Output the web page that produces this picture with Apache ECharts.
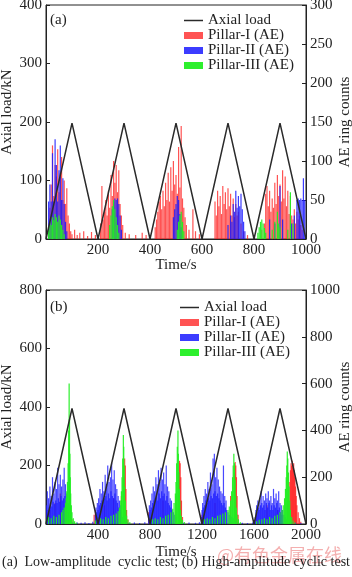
<!DOCTYPE html>
<html>
<head>
<meta charset="utf-8">
<script src="https://cdn.jsdelivr.net/npm/echarts@6/dist/echarts.min.js"></script>
<style>
  html, body { margin: 0; padding: 0; background: #fff; }
  #chart { width: 352px; height: 577px; }
</style>
</head>
<body>
<div id="chart"></div>
<script>
// (a) low-amplitude cyclic test: [time s, axial load kN]
const loadA = [[0, 0], [100, 198], [200, 0], [300, 198], [400, 0], [500, 198], [600, 0], [700, 198], [800, 0], [900, 198], [1000, 0]];
// AE ring counts [time s, counts]
const redA = [[15,40],[20,70],[25,120],[30,55],[35,95],[40,80],[45,115],[50,60],[55,85],[60,105],[65,50],[70,75],[75,45],[80,65],[85,30],[90,20],[95,10],[100,6],[110,12],[120,5],[130,8],[145,10],[160,4],[175,9],[190,5],
  [210,20],[215,68],[220,25],[225,35],[230,50],[235,30],[240,62],[245,40],[250,82],[255,55],[260,100],[265,72],[270,95],[275,60],[280,88],[285,45],[290,30],[295,18],[305,8],[320,6],[345,5],[370,8],[385,5],
  [420,15],[425,25],[430,35],[435,48],[440,55],[445,38],[450,62],[455,42],[460,72],[465,50],[470,85],[475,48],[480,92],[485,62],[490,100],[495,70],[500,82],[505,58],[510,118],[515,66],[520,145],[525,52],[530,40],[535,28],[540,18],[550,12],[565,38],[575,10],[590,6],
  [650,48],[655,30],[660,62],[665,42],[670,55],[675,32],[680,68],[685,45],[690,60],[695,38],[700,65],[705,42],[710,58],[715,30],[720,52],[725,28],[730,45],[735,30],[740,35],[750,20],[760,10],[775,5],
  [830,12],[840,20],[845,58],[850,68],[855,42],[860,62],[865,35],[870,52],[875,40],[880,72],[885,45],[890,82],[895,55],[900,70],[905,48],[910,88],[915,52],[920,80],[925,42],[930,62],[935,32],[940,55],[945,30],[950,25],[955,38],[960,20],[965,35],[970,25],[975,30],[980,18],[985,12]];
const blueA = [[10,48],[15,70],[20,48],[25,110],[30,48],[35,128],[40,95],[45,48],[50,88],[55,120],[60,50],[65,78],[70,45],[75,22],[80,10],
  [255,38],[260,48],[265,52],[270,50],[275,52],[280,45],[285,30],[290,12],
  [490,28],[495,38],[500,45],[505,55],[510,50],[515,32],[520,15],
  [700,18],[710,30],[715,22],[720,45],[725,35],[730,62],[735,40],[740,55],[745,42],[750,58],[755,38],[760,22],[765,10],
  [860,25],[880,20],[900,68],[910,25],[945,20],[955,30],[965,50],[970,52],[975,50],[980,52],[985,50],[990,78],[995,50]];
const greenA = [[10,12],[15,22],[20,18],[25,28],[30,24],[35,32],[40,28],[45,22],[50,30],[55,25],[60,18],[65,12],[70,6],
  [245,18],[250,30],[255,42],[260,50],[265,38],[270,28],[275,18],[280,8],
  [505,12],[510,22],[515,30],[520,35],[525,22],[530,10],
  [815,8],[820,15],[825,22],[830,25],[835,20],[840,14],[845,8],[870,12],[880,22],[890,35],[895,20],[900,15],[930,12],[940,60],[950,20]];

// (b) high-amplitude cyclic test
const loadB = [[0, 0], [200, 395], [400, 0], [600, 395], [800, 0], [1000, 395], [1200, 0], [1400, 395], [1600, 0], [1800, 395], [2000, 0]];
const redB = [[30,60],[70,90],[110,130],[150,80],[185,120],[190,60],[200,20],[370,40],[380,60],[450,80],[520,110],[580,120],
  [600,200],[605,280],[610,250],[615,150],[620,60],[630,20],[790,50],[900,100],[1000,120],
  [1022,220],[1027,270],[1032,260],[1037,200],[1042,100],[1050,30],[1200,40],[1300,90],[1420,120],
  [1450,220],[1455,265],[1460,250],[1465,200],[1470,120],[1478,40],[1620,50],[1700,80],[1780,60],
  [1860,100],[1870,180],[1880,230],[1885,260],[1890,250],[1895,270],[1900,240],[1905,260],[1910,230],[1915,200],[1920,160],[1925,120],[1930,80],[1940,50],[1950,25],[1960,10]];
const blueB = [[5,80],[10,140],[15,60],[20,110],[25,70],[30,160],[35,90],[40,120],[45,75],[50,200],[55,95],[60,130],[65,85],[70,180],[75,100],[80,150],[85,90],[90,240],[95,110],[100,170],[105,95],[110,210],[115,120],[120,160],[125,100],[130,190],[135,110],[140,240],[145,120],[150,170],[155,90],[160,130],[165,70],[170,90],[175,50],[180,30],[190,15],[200,8],[215,5],[240,6],[270,5],[300,8],[330,4],[360,10],
  [380,40],[385,70],[390,50],[395,90],[400,60],[405,110],[410,80],[415,150],[420,90],[425,130],[430,100],[435,180],[440,95],[445,140],[450,110],[455,210],[460,120],[465,170],[470,100],[475,250],[480,130],[485,180],[490,110],[495,200],[500,140],[505,260],[510,120],[515,190],[520,110],[525,230],[530,130],[535,170],[540,100],[545,150],[550,90],[555,120],[560,70],[565,100],[570,60],[575,80],[580,50],[590,30],[600,20],[610,12],[620,8],[640,5],[680,6],[720,4],[760,8],
  [790,40],[795,80],[800,60],[805,100],[810,70],[815,130],[820,90],[825,160],[830,100],[835,140],[840,110],[845,200],[850,120],[855,170],[860,100],[865,230],[870,130],[875,180],[880,110],[885,240],[890,140],[895,190],[900,120],[905,220],[910,130],[915,170],[920,100],[925,250],[930,120],[935,160],[940,90],[945,140],[950,80],[955,110],[960,70],[965,100],[970,60],[980,50],[990,40],[1000,30],[1020,15],[1040,8],[1060,5],[1100,6],[1150,5],[1180,8],
  [1195,30],[1200,60],[1205,90],[1210,70],[1215,120],[1220,80],[1225,150],[1230,100],[1235,130],[1240,90],[1245,180],[1250,110],[1255,150],[1260,100],[1265,220],[1270,120],[1275,170],[1280,110],[1285,280],[1290,130],[1295,300],[1300,140],[1305,200],[1310,120],[1315,240],[1320,130],[1325,190],[1330,110],[1335,160],[1340,100],[1345,140],[1350,90],[1355,130],[1360,80],[1365,250],[1370,90],[1375,120],[1380,70],[1385,100],[1390,60],[1400,50],[1410,40],[1420,35],[1430,30],[1440,25],[1460,12],[1480,6],[1510,5],[1550,4],[1590,6],
  [1610,30],[1615,60],[1620,80],[1625,50],[1630,100],[1635,70],[1640,60],[1645,110],[1650,80],[1655,140],[1660,90],[1665,70],[1670,120],[1675,80],[1680,100],[1685,60],[1690,130],[1695,90],[1700,110],[1705,70],[1710,140],[1715,90],[1720,100],[1725,60],[1730,120],[1735,80],[1740,90],[1745,60],[1750,150],[1755,80],[1760,110],[1765,70],[1770,130],[1775,90],[1780,100],[1785,60],[1790,140],[1795,70],[1800,90],[1805,50],[1810,80],[1815,40],[1820,60],[1830,40],[1840,30],[1850,20],[1870,10],[1890,6],[1920,5],[1960,4]];
const greenB = [[0,20],[20,30],[40,25],[60,35],[80,30],[100,40],[120,50],[130,60],[140,70],[150,90],[155,110],[160,140],[165,180],[170,260],[175,400],[178,600],[181,450],[184,300],[187,200],[190,130],[195,80],[200,50],[210,25],[220,12],[235,6],
  [380,15],[400,20],[420,25],[440,20],[460,30],[480,25],[500,35],[520,40],[540,45],[555,55],[565,70],[575,100],[580,140],[585,200],[590,280],[595,380],[598,330],[601,250],[605,160],[610,100],[615,60],[620,35],[630,18],[645,8],
  [800,15],[820,20],[840,25],[860,20],[880,30],[900,25],[920,35],[940,40],[960,50],[975,65],[985,90],[995,130],[1000,180],[1005,260],[1010,330],[1015,400],[1018,300],[1022,220],[1026,150],[1030,100],[1035,60],[1040,35],[1050,18],[1065,8],
  [1200,15],[1220,20],[1240,25],[1260,20],[1280,30],[1300,25],[1320,35],[1340,40],[1360,45],[1380,50],[1400,60],[1410,75],[1420,100],[1428,140],[1435,200],[1440,250],[1445,300],[1450,260],[1455,190],[1460,120],[1465,70],[1470,40],[1480,20],[1495,8],
  [1620,12],[1640,18],[1660,20],[1680,25],[1700,20],[1720,30],[1740,25],[1760,35],[1780,40],[1800,50],[1815,60],[1825,80],[1835,110],[1842,150],[1848,200],[1852,250],[1856,310],[1860,280],[1865,220],[1870,160],[1875,100],[1880,60],[1890,30],[1900,15],[1915,6]];

const font = '"Liberation Serif", "Times New Roman", serif';
const ink = '#222';
const chart = echarts.init(document.getElementById('chart'));

const tickStyle = { show: true, inside: true, length: 4, lineStyle: { color: ink } };
const lineStyle = { show: true, lineStyle: { color: ink, width: 1 } };
const labelStyle = { fontFamily: font, fontSize: 15, color: ink, margin: 4, formatter: v => String(v) };

function xAxis(gi, max, step, gap) {
  return {
    type: 'value', gridIndex: gi, min: 0, max: max, interval: step,
    name: 'Time/s', nameLocation: 'middle', nameGap: gap, nameMoveOverlap: false,
    nameTextStyle: { fontFamily: font, fontSize: 15, color: ink },
    axisLine: lineStyle, axisTick: tickStyle, splitLine: { show: false },
    axisLabel: Object.assign({ showMinLabel: false }, labelStyle)
  };
}
function yAxis(gi, side, max, step, name, pad) {
  return {
    type: 'value', gridIndex: gi, position: side, min: 0, max: max, interval: step,
    name: name, nameLocation: 'middle', nameGap: side === 'left' ? 31 : 32, nameRotate: 90,
    nameMoveOverlap: false,
    nameTextStyle: { fontFamily: font, fontSize: 15, color: ink, padding: pad || 0 },
    axisLine: lineStyle, axisTick: tickStyle, splitLine: { show: false },
    axisLabel: labelStyle
  };
}
function bars(name, color, opacity, data, gi) {
  return {
    name: name, type: 'bar', xAxisIndex: gi, yAxisIndex: gi * 2 + 1, data: data,
    barWidth: 1.2, barGap: '-100%', itemStyle: { color: color, opacity: opacity }
  };
}
function load(data, gi) {
  return {
    name: 'Axial load', type: 'line', xAxisIndex: gi, yAxisIndex: gi * 2, data: data,
    symbol: 'none', z: 5, lineStyle: { color: '#2a2a2a', width: 1.5 }, itemStyle: { color: '#2a2a2a' }
  };
}
const legendText = { fontFamily: font, fontSize: 15, color: ink, lineHeight: 15 };
function legends(left, top) {
  return [
    {
      orient: 'vertical', left: left, top: top, padding: 0, itemWidth: 19, itemHeight: 1.5,
      selectedMode: false, textStyle: legendText, icon: 'rect',
      data: ['Axial load']
    },
    {
      orient: 'vertical', left: left, top: top + 15, padding: 0, itemWidth: 19, itemHeight: 7, itemGap: 0,
      selectedMode: false, textStyle: legendText, icon: 'rect',
      data: ['Pillar-I (AE)', 'Pillar-II (AE)', 'Pillar-III (AE)']
    }
  ];
}
function grid(top) {
  return { left: 46, top: top, width: 260, height: 234, show: true, borderColor: ink, borderWidth: 1, outerBoundsMode: 'none', containLabel: false };
}

chart.setOption({
  animation: false,
  backgroundColor: '#fff',
  grid: [grid(5), grid(290)],
  xAxis: [xAxis(0, 1000, 200, 19), xAxis(1, 2000, 400, 21)],
  yAxis: [
    yAxis(0, 'left', 400, 100, 'Axial load/kN', [0, 0, 0, 20]),
    yAxis(0, 'right', 300, 50, 'AE ring counts'),
    yAxis(1, 'left', 800, 200, 'Axial load/kN'),
    yAxis(1, 'right', 1000, 200, 'AE ring counts')
  ],
  legend: legends(184, 13).concat(legends(180, 300)),
  series: [
    bars('Pillar-I (AE)', '#ff1a1a', 0.75, redA, 0),
    bars('Pillar-II (AE)', '#1a1aff', 0.85, blueA, 0),
    bars('Pillar-III (AE)', '#22ee22', 0.95, greenA, 0),
    load(loadA, 0),
    bars('Pillar-I (AE)', '#ff1a1a', 0.8, redB, 1),
    bars('Pillar-II (AE)', '#1a1aff', 0.8, blueB, 1),
    bars('Pillar-III (AE)', '#22ee22', 0.95, greenB, 1),
    load(loadB, 1)
  ],
  graphic: [
    { type: 'text', left: 50, top: 13, style: { text: '(a)', font: '15px ' + font, fill: ink } },
    { type: 'text', left: 50, top: 300, style: { text: '(b)', font: '15px ' + font, fill: ink } },
    { type: 'text', left: 217, top: 546, z: 0, style: { text: '@有色金属在线', font: '18px "Noto Sans CJK SC"', fill: 'rgba(235,110,110,0.55)' } },
    { type: 'text', left: 'center', top: 555, z: 10, style: { text: '(a)  Low-amplitude  cyclic test; (b) High-amplitude cyclic test', font: '14px ' + font, fill: ink } }
  ]
});
</script>
</body>
</html>
